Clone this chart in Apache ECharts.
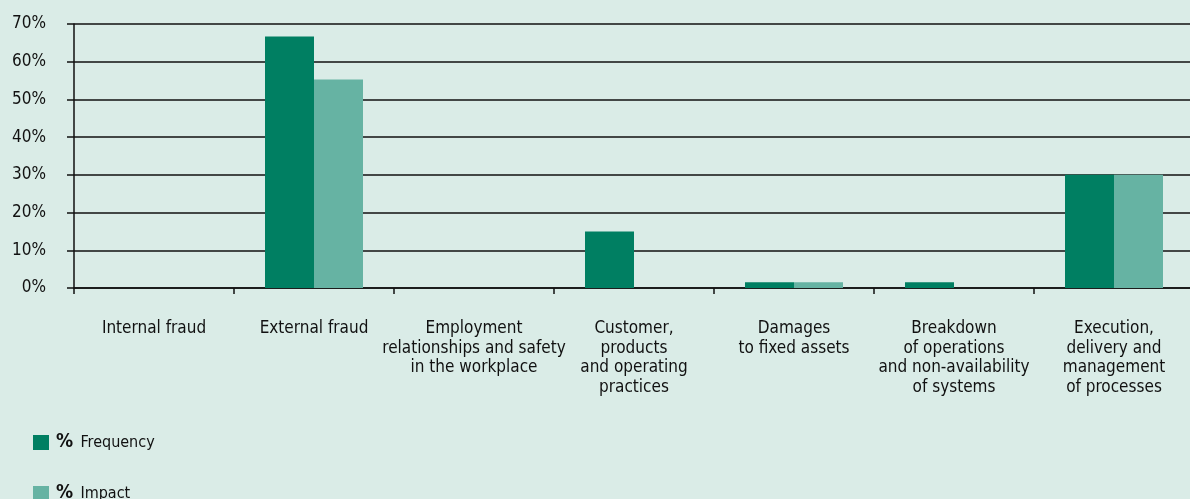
<!DOCTYPE html>
<html>
<head>
<meta charset="utf-8">
<script src="https://cdn.jsdelivr.net/npm/echarts@6/dist/echarts.min.js"></script>
<style>
  html, body { margin: 0; padding: 0; background: #daece7; overflow: hidden; }
  body { width: 1190px; height: 499px; }
  /* plot runs slightly past the right edge, so the canvas is a bit wider than the page */
  #chart { width: 1200px; height: 499px; }
</style>
</head>
<body>
<div id="chart"></div>
<script>
// Operational loss events by risk category (% of total)
const categories = [
  'Internal fraud',
  'External fraud',
  'Employment\nrelationships and safety\nin the workplace',
  'Customer,\nproducts\nand operating\npractices',
  'Damages\nto fixed assets',
  'Breakdown\nof operations\nand non-availability\nof systems',
  'Execution,\ndelivery and\nmanagement\nof processes'
];
const frequency = [0, 66.7, 0, 15, 1.5, 1.5, 30];
const impact = [0, 55.3, 0, 0, 1.5, 0, 30];
const yTicks = [0, 10, 20, 30, 40, 50, 60, 70];

const FONT = '"Liberation Sans Narrow", "DejaVu Sans Condensed", sans-serif';
const INK = '#111111';

const legendText = {
  rich: {
    p: { fontFamily: FONT, fontSize: 19, fontWeight: 'bold', color: INK, padding: [0, 4, 0, 2] },
    n: { fontFamily: FONT, fontSize: 16, color: INK }
  }
};
const legendItem = (name, top) => ({
  left: 33,
  top: top,
  padding: 0,
  itemWidth: 16,
  itemHeight: 15,
  icon: 'rect',
  data: [name],
  formatter: n => '{p|%} {n|' + n + '}',
  textStyle: legendText
});

const chart = echarts.init(document.getElementById('chart'));
chart.setOption({
  backgroundColor: '#daece7',
  animation: false,
  grid: { left: 74, right: 6, top: 24, bottom: 211, containLabel: false },
  legend: [legendItem('Frequency', 433), legendItem('Impact', 484)],
  xAxis: {
    type: 'category',
    data: categories,
    axisLine: { lineStyle: { color: INK, width: 1.5 } },
    axisTick: { show: true, length: 6, lineStyle: { color: INK, width: 1.5 } },
    axisLabel: {
      interval: 0,
      margin: 31,
      fontFamily: FONT,
      fontSize: 17,
      lineHeight: 19.5,
      color: INK,
      align: 'center'
    }
  },
  yAxis: {
    type: 'value',
    min: 0,
    max: 70,
    interval: 10,
    axisLine: { show: true, lineStyle: { color: INK, width: 1.5 } },
    axisTick: { show: true, length: 7, lineStyle: { color: INK, width: 1.5 } },
    splitLine: { lineStyle: { color: INK, width: 1.5 } },
    axisLabel: {
      margin: 28,
      fontFamily: FONT,
      fontSize: 17,
      color: INK,
      formatter: v => (yTicks.includes(v) ? v + '%' : '')
    }
  },
  series: [
    {
      name: 'Frequency',
      type: 'bar',
      data: frequency,
      barWidth: 49,
      barGap: '0%',
      itemStyle: { color: '#007f62' }
    },
    {
      name: 'Impact',
      type: 'bar',
      data: impact,
      barWidth: 49,
      itemStyle: { color: '#66b3a3' }
    }
  ]
});
</script>
</body>
</html>
